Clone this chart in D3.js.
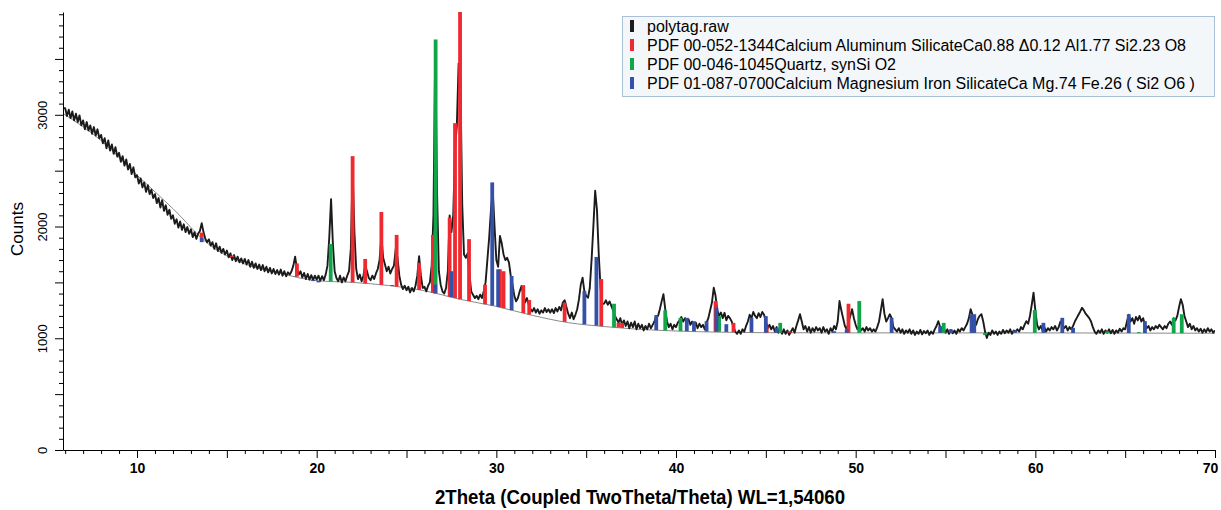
<!DOCTYPE html>
<html>
<head>
<meta charset="utf-8">
<script src="https://cdn.jsdelivr.net/npm/d3@7"></script>
<style>
  body { margin: 0; background: #fff; }
  .tick text { fill: #000; }
</style>
</head>
<body>
<div id="container"></div>
<script>
/* DATA */
// raw scan, one value every 0.1 deg starting at 5.9 deg
const rawStart = 5.9, rawStep = 0.1;
const rawCounts = [
  3060,
  3060, 2990, 3045, 2970, 3030, 2950, 3010, 2935, 2995, 2905,
  2950, 2870, 2935, 2860, 2905, 2830, 2890, 2815, 2870, 2790,
  2820, 2745, 2790, 2700, 2770, 2680, 2735, 2650, 2710, 2625,
  2660, 2580, 2630, 2545, 2600, 2510, 2560, 2470, 2530, 2440,
  2460, 2385, 2430, 2350, 2395, 2310, 2370, 2290, 2330, 2255,
  2290, 2210, 2255, 2170, 2235, 2140, 2190, 2105, 2150, 2070,
  2100, 2025, 2065, 1990, 2045, 1970, 2020, 1950, 1995, 1935,
  1975, 1905, 1950, 1890, 1935, 1960, 2030, 1950, 1890, 1860,
  1885, 1830, 1860, 1800, 1850, 1780, 1820, 1765, 1800, 1750,
  1785, 1725, 1760, 1700, 1745, 1690, 1730, 1680, 1715, 1670,
  1710, 1660, 1700, 1640, 1685, 1630, 1670, 1620, 1660, 1610,
  1655, 1600, 1640, 1590, 1630, 1580, 1620, 1575, 1610, 1570,
  1615, 1560, 1600, 1555, 1590, 1570, 1600, 1650, 1730, 1620,
  1570, 1600, 1545, 1585, 1530, 1575, 1525, 1565, 1520, 1560,
  1525, 1560, 1515, 1555, 1520, 1570, 1650, 1900, 2245, 1850,
  1600, 1540, 1510, 1560, 1500, 1545, 1510, 1560, 1600, 1800,
  2510, 1950, 1620, 1530, 1570, 1510, 1560, 1650, 1600, 1540,
  1520, 1560, 1530, 1580, 1620, 1700, 1915, 1720, 1660, 1600,
  1640, 1580, 1620, 1650, 1800, 1720, 1560, 1480, 1440, 1470,
  1430, 1460, 1410, 1450, 1420, 1470, 1560, 1735, 1560, 1450,
  1460, 1420, 1470, 1500, 1650, 2100, 3600, 2300, 1600, 1480,
  1420, 1400, 1450, 1600, 2100, 1950, 2100, 2700, 2900, 3460,
  3300, 2200, 1750, 1720, 1760, 1580, 1420, 1390, 1360, 1380,
  1350, 1390, 1360, 1420, 1500, 1700, 1900, 2150, 2320, 2000,
  1700, 1640, 1915, 1850, 1750, 1700, 1720, 1680, 1560, 1480,
  1380, 1330, 1360, 1420, 1467, 1400, 1320, 1360, 1300, 1260,
  1240, 1270, 1230, 1260, 1220, 1250, 1230, 1270, 1235, 1260,
  1230, 1260, 1225, 1270, 1240, 1280, 1250, 1320, 1340, 1280,
  1220, 1180, 1230, 1170, 1210, 1260, 1350, 1480, 1542, 1420,
  1380, 1363, 1450, 1700, 2000, 2320, 2150, 1750, 1450, 1305,
  1310, 1340, 1300, 1330, 1290, 1250, 1200, 1170, 1140, 1180,
  1120, 1160, 1110, 1150, 1090, 1140, 1100, 1150, 1080, 1130,
  1090, 1120, 1070, 1110, 1080, 1130, 1090, 1120, 1150, 1200,
  1200, 1260, 1330, 1395, 1260, 1150, 1100, 1130, 1080, 1120,
  1100, 1140, 1160, 1190, 1150, 1180, 1140, 1170, 1120, 1150,
  1110, 1140, 1090, 1130, 1100, 1120, 1080, 1140, 1180, 1250,
  1320, 1452, 1380, 1250, 1200, 1230, 1180, 1228, 1160, 1200,
  1180, 1150, 1100, 1060, 1040, 1070, 1040, 1080, 1060, 1110,
  1150, 1210, 1180, 1235, 1200, 1180, 1225, 1190, 1235, 1210,
  1150, 1090, 1120, 1080, 1110, 1060, 1100, 1050, 1090, 1040,
  1080, 1040, 1070, 1030, 1060, 1090, 1050, 1110, 1160, 1215,
  1150, 1080, 1110, 1060, 1100, 1050, 1090, 1060, 1100, 1070,
  1090, 1050, 1100, 1060, 1080, 1040, 1090, 1060, 1110, 1080,
  1150, 1333, 1250, 1180, 1110, 1080, 1140, 1200, 1260, 1180,
  1120, 1080, 1110, 1070, 1090, 1060, 1100, 1070, 1090, 1060,
  1080, 1060, 1100, 1150, 1250, 1350, 1220, 1150, 1180, 1215,
  1180, 1100, 1080, 1060, 1090, 1050, 1080, 1040, 1070, 1050,
  1080, 1040, 1070, 1030, 1060, 1040, 1075, 1035, 1065, 1045,
  1070, 1030, 1060, 1040, 1080, 1110, 1153, 1100, 1070, 1090,
  1050, 1080, 1040, 1075, 1045, 1070, 1040, 1080, 1060, 1090,
  1070, 1100, 1130, 1180, 1260, 1210, 1150, 1120, 1170, 1200,
  1215, 1150, 1060, 1003, 1050, 1030, 1070, 1040, 1060, 1030,
  1060, 1040, 1075, 1045, 1070, 1050, 1080, 1040, 1070, 1060,
  1080, 1060, 1100, 1080, 1120, 1153, 1130, 1200, 1300, 1408,
  1250, 1120, 1080, 1110, 1070, 1100, 1060, 1090, 1070, 1100,
  1080, 1110, 1070, 1100, 1150, 1120, 1090, 1110, 1070, 1100,
  1080, 1110, 1150, 1180, 1210, 1240, 1273, 1250, 1220, 1200,
  1180, 1150, 1100, 1060, 1040, 1070, 1050, 1080, 1040, 1070,
  1050, 1080, 1045, 1075, 1040, 1070, 1050, 1085, 1060, 1090,
  1080, 1150, 1210, 1150, 1180, 1130, 1190, 1160, 1200, 1150,
  1180, 1120, 1090, 1110, 1070, 1100, 1080, 1110, 1090, 1120,
  1100, 1080, 1110, 1090, 1130, 1150, 1120, 1180, 1160, 1200,
  1280, 1350, 1300, 1200, 1150, 1100, 1130, 1080, 1110, 1070,
  1090, 1060, 1085, 1050, 1080, 1055, 1090, 1060, 1080, 1050,
  1070
];

// fitted background
const bgTheta  = [5.9, 8, 10, 12, 14, 16, 18, 20, 22, 24, 26, 28, 30, 32, 34, 36, 38, 40, 45, 50, 60, 70];
const bgCounts = [3010, 2770, 2460, 2160, 1840, 1665, 1580, 1515, 1500, 1472, 1425, 1348, 1285, 1205, 1140, 1105, 1080, 1065, 1050, 1048, 1048, 1045];

// PDF 00-052-1344 Calcium Aluminum Silicate (red)
const redTheta  = [13.6, 15.3, 18.9, 22.0, 22.7, 23.6, 24.45, 25.7, 26.47, 27.4, 27.7, 27.98, 28.48, 29.37, 30.2, 30.4, 31.5, 31.83, 33.8, 35.84, 36.8, 37.0, 42.2, 43.2, 45.05, 46.3, 49.6];
const redCounts = [1946, 1740, 1670, 2630, 1710, 2130, 1925, 1675, 1925, 2080, 2925, 3920, 1887, 1480, 1617, 1600, 1475, 1342, 1318, 1530, 1138, 1138, 1333, 1138, 1108, 1063, 1309];

// PDF 00-046-1045 Quartz (green)
const greenTheta  = [20.78, 26.62, 36.55, 39.4, 40.25, 42.4, 45.8, 50.2, 54.9, 57.2, 59.97, 64.0, 65.76, 67.7, 68.15];
const greenCounts = [1845, 3673, 1309, 1250, 1183, 1198, 1138, 1333, 1138, 1028, 1252, 1063, 1055, 1183, 1215];

// PDF 01-087-0700 Calcium Magnesium Iron Silicate (blue)
const blueTheta  = [13.6, 18.8, 19.8, 20.1, 24.2, 26.6, 27.5, 29.77, 30.1, 30.85, 34.9, 35.57, 38.9, 40.6, 41.0, 41.7, 42.25, 42.8, 44.2, 45.0, 45.6, 48.8, 49.5, 52.0, 54.7, 55.3, 56.45, 56.6, 58.86, 60.45, 61.5, 62.1, 65.2, 66.1];
const blueCounts = [1860, 1557, 1512, 1500, 1476, 1480, 1600, 2395, 1617, 1557, 1423, 1728, 1207, 1183, 1153, 1153, 1273, 1126, 1183, 1198, 1093, 1063, 1080, 1183, 1108, 1080, 1215, 1215, 1070, 1138, 1183, 1093, 1215, 1153];

const legendLabels = [
  "polytag.raw",
  "PDF 00-052-1344Calcium Aluminum SilicateCa0.88 \u03940.12 Al1.77 Si2.23 O8",
  "PDF 00-046-1045Quartz, synSi O2",
  "PDF 01-087-0700Calcium Magnesium Iron SilicateCa Mg.74 Fe.26 ( Si2 O6 )"
];

/* CONSTANTS AND GLOBALS */
const width = 1221, height = 510;
const colors = { raw: "#1b1b1b", red: "#ee2a30", green: "#10a54a", blue: "#3550a8" };
const sans = "'Liberation Sans', Arial, sans-serif";

const svg = d3.select("#container").append("svg")
  .attr("width", width)
  .attr("height", height);

const x = d3.scaleLinear().domain([5.88, 70]).range([63, 1215]);
const y = d3.scaleLinear().domain([0, 3920]).range([450, 12]);

// background value under a stick
const bgAt = d3.scaleLinear().domain(bgTheta).range(bgCounts).clamp(true);

const raw = rawCounts.map((c, i) => ({ t: +(rawStart + i * rawStep).toFixed(2), c }));

svg.append("clipPath").attr("id", "plot")
  .append("rect").attr("x", 63).attr("y", 12).attr("width", 1152).attr("height", 438);

const plot = svg.append("g").attr("clip-path", "url(#plot)");

/* BACKGROUND LINE */
plot.append("path")
  .datum(bgTheta.map((t, i) => [t, bgCounts[i]]))
  .attr("fill", "none")
  .attr("stroke", "#8a8a8a")
  .attr("stroke-width", 1)
  .attr("d", d3.line().x(d => x(d[0])).y(d => y(d[1])).curve(d3.curveMonotoneX));

/* RAW SCAN */
plot.append("path")
  .datum(raw)
  .attr("fill", "none")
  .attr("stroke", colors.raw)
  .attr("stroke-width", 1.9)
  .attr("stroke-linejoin", "round")
  .attr("d", d3.line().x(d => x(d.t)).y(d => y(d.c)));

/* STICK PATTERNS */
const phases = [
  { key: "red", theta: redTheta, counts: redCounts },
  { key: "green", theta: greenTheta, counts: greenCounts },
  { key: "blue", theta: blueTheta, counts: blueCounts }
];

phases.forEach(p => {
  plot.selectAll("line.stick-" + p.key)
    .data(p.theta.map((t, i) => ({ t, c: p.counts[i] })))
    .join("line")
    .attr("class", "stick-" + p.key)
    .attr("x1", d => x(d.t))
    .attr("x2", d => x(d.t))
    .attr("y1", d => y(bgAt(d.t)))
    .attr("y2", d => y(d.c))
    .attr("stroke", colors[p.key])
    .attr("stroke-width", 3.8);
});

/* AXES */
const yAxis = svg.append("g")
  .attr("transform", "translate(63,0)")
  .call(d3.axisLeft(y)
    .tickValues(d3.range(0, 3901, 100))
    .tickSize(4)
    .tickSizeOuter(0)
    .tickFormat(d => d % 1000 === 0 ? d : ""));
yAxis.select(".domain").attr("stroke", "#000");
yAxis.selectAll(".tick line")
  .attr("stroke", "#000")
  .attr("x2", d => d % 500 === 0 ? -8 : -4);
yAxis.selectAll(".tick text")
  .attr("x", 0)
  .attr("dy", 0)
  .attr("text-anchor", "middle")
  .attr("transform", "translate(-16,0) rotate(-90)")
  .style("font-family", sans)
  .style("font-size", "13px");

const xAxis = svg.append("g")
  .attr("transform", "translate(0,450)")
  .call(d3.axisBottom(x)
    .tickValues(d3.range(6, 71, 1))
    .tickSize(4)
    .tickSizeOuter(0)
    .tickFormat(d => d % 10 === 0 ? d : ""));
xAxis.select(".domain").attr("stroke", "#000");
xAxis.selectAll(".tick line")
  .attr("stroke", "#000")
  .attr("y2", d => d % 5 === 0 ? 8 : 4);
xAxis.selectAll(".tick text")
  .attr("y", 13)
  .attr("dx", d => d === 70 ? -5 : 0)
  .style("font-family", sans)
  .style("font-weight", "bold")
  .style("font-size", "14px");

svg.append("text")
  .attr("transform", "translate(23,229) rotate(-90)")
  .attr("text-anchor", "middle")
  .style("font-family", sans)
  .style("font-size", "17px")
  .text("Counts");

svg.append("text")
  .attr("x", 640)
  .attr("y", 504)
  .attr("text-anchor", "middle")
  .attr("textLength", 410)
  .attr("lengthAdjust", "spacingAndGlyphs")
  .style("font-family", sans)
  .style("font-weight", "bold")
  .style("font-size", "20px")
  .text("2Theta (Coupled TwoTheta/Theta) WL=1,54060");

/* LEGEND */
const legend = svg.append("g");
legend.append("rect")
  .attr("x", 622.5).attr("y", 16.5)
  .attr("width", 592).attr("height", 80)
  .attr("fill", "#f4f7fa")
  .attr("stroke", "#a9c0d6");

const legendColors = [colors.raw, colors.red, colors.green, colors.blue];
const rows = legend.selectAll("g.row")
  .data(legendLabels)
  .join("g")
  .attr("class", "row")
  .attr("transform", (d, i) => `translate(0,${26 + i * 19})`);
rows.append("rect")
  .attr("x", 630).attr("y", -6)
  .attr("width", 4).attr("height", 12)
  .attr("fill", (d, i) => legendColors[i]);
rows.append("text")
  .attr("x", 647)
  .attr("dy", "0.35em")
  .style("font-family", sans)
  .style("font-size", "16px")
  .text(d => d);
</script>
</body>
</html>
